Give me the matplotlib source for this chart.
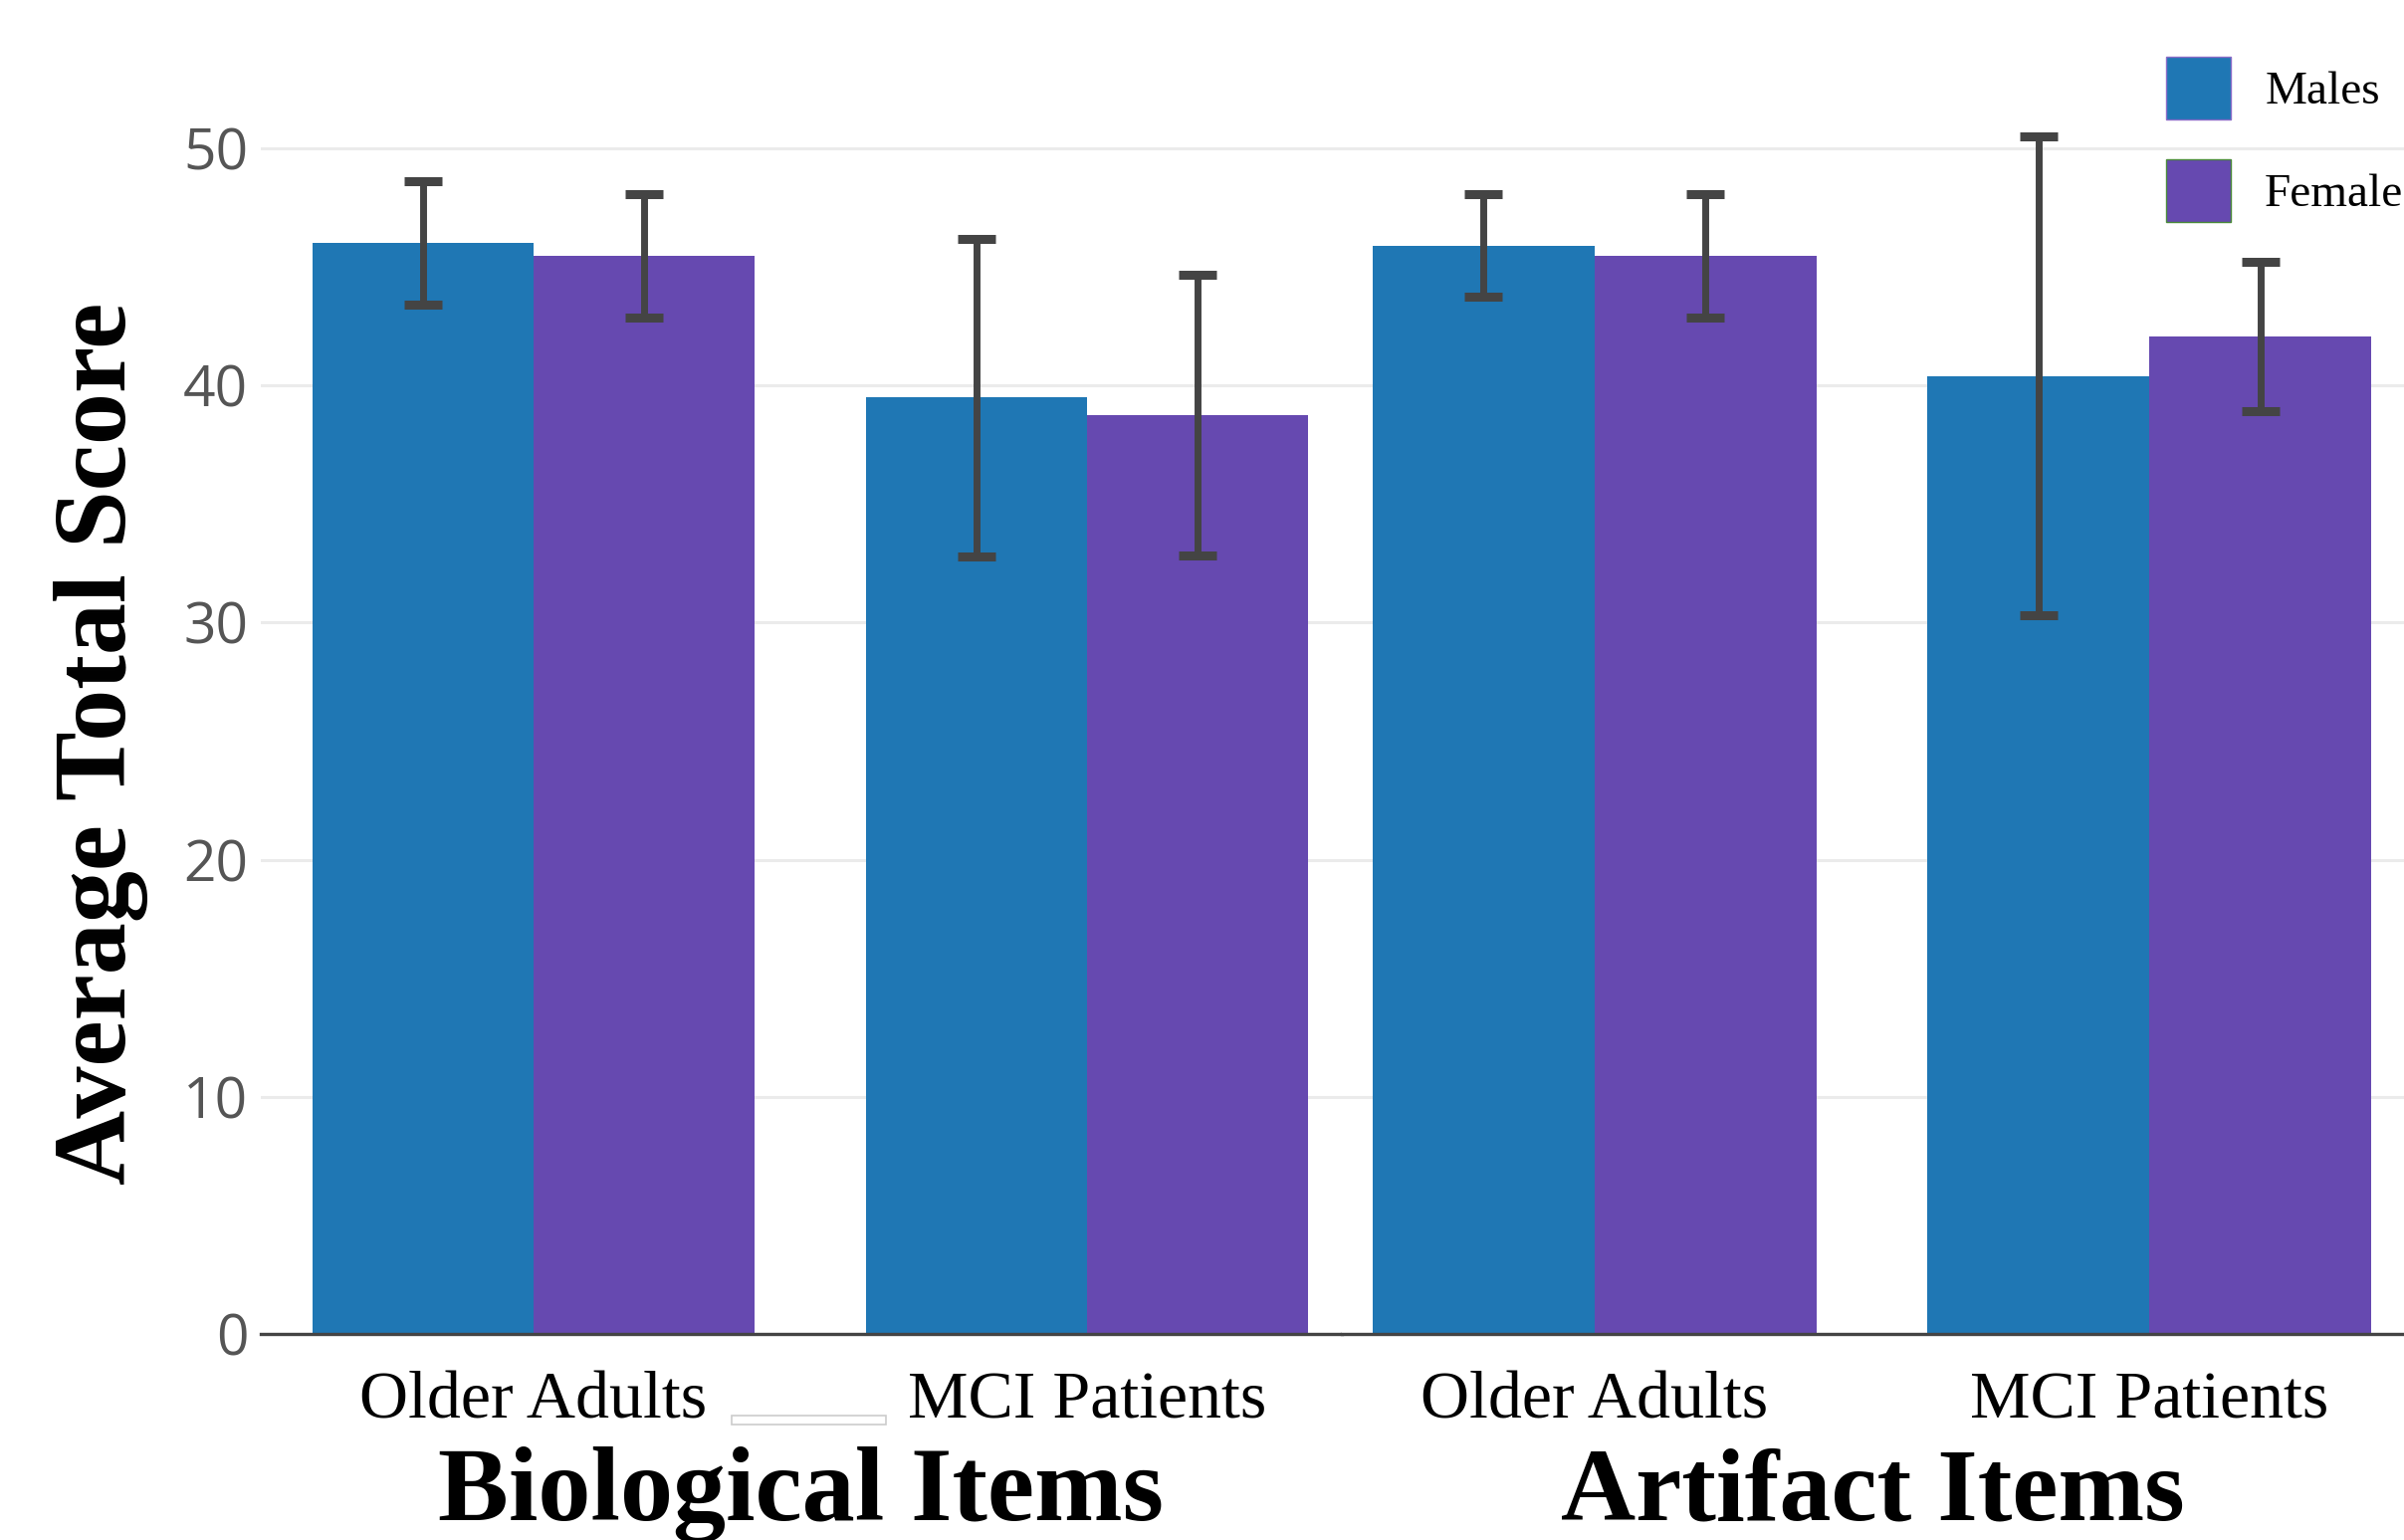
import matplotlib
matplotlib.use('Agg')
import matplotlib.pyplot as plt
from matplotlib.patches import Patch, Rectangle
import numpy as np

# ---- data ----
groups = ['Older Adults', 'MCI Patients']
item_types = ['Biological Items', 'Artifact Items']
series = ['Males', 'Females']
bio_males = [46.0, 39.5]
bio_males_err = [2.6, 6.7]
bio_females = [45.45, 38.75]
bio_females_err = [2.6, 5.9]
art_males = [45.9, 40.4]
art_males_err = [2.15, 10.1]
art_females = [45.45, 42.05]
art_females_err = [2.6, 3.15]
yticks = [0, 10, 20, 30, 40, 50]

# ---- style ----
C_MALE = '#1f77b4'
C_FEMALE = '#6649b0'
C_ERR = '#444444'
SERIF = ['Liberation Serif', 'DejaVu Serif']
SANS = ['Open Sans', 'DejaVu Sans']

W, H = 2415, 1547
fig = plt.figure(figsize=(W / 100, H / 100), dpi=100)

ax_left_px, ax_split_px, ax_bottom_px = 261.8, 1347.7, 1340.0
y_per_unit = (1340 - 149) / 50.0
ytop = ax_bottom_px / y_per_unit

b = 1 - ax_bottom_px / H
ax1 = fig.add_axes([ax_left_px / W, b, (ax_split_px - ax_left_px) / W, 1 - b])
ax2 = fig.add_axes([ax_split_px / W, b, 1 - ax_split_px / W, 1 - b])

data = [
    (ax1, item_types[0], bio_males, bio_males_err, bio_females, bio_females_err, (-0.493, 1.46), 76.5),
    (ax2, item_types[1], art_males, art_males_err, art_females, art_females_err, (-0.456, 1.459), 75),
]

bw = 0.40
for ax, title, m, me, f, fe, xl, tsize in data:
    x = np.arange(len(groups))
    ax.set_axisbelow(True)
    ax.bar(x - bw / 2, m, width=bw, color=C_MALE, zorder=2)
    ax.bar(x + bw / 2, f, width=bw, color=C_FEMALE, zorder=2)
    ax.errorbar(x - bw / 2, m, yerr=me, fmt='none', ecolor=C_ERR, elinewidth=5,
                capsize=13.5, capthick=6.5, zorder=3)
    ax.errorbar(x + bw / 2, f, yerr=fe, fmt='none', ecolor=C_ERR, elinewidth=5,
                capsize=13.5, capthick=6.5, zorder=3)
    ax.set_xlim(*xl)
    ax.set_ylim(0, ytop)
    ax.set_yticks(yticks)
    ax.yaxis.grid(True, color='#ebebeb', linewidth=2.2, zorder=0)
    ax.set_xticks(x)
    ax.set_xticklabels(groups, fontsize=49, family=SERIF)
    ax.tick_params(axis='x', length=0, pad=27)
    ax.tick_params(axis='y', length=0, pad=9, labelsize=41, labelcolor='#555555')
    for lab in ax.get_yticklabels():
        lab.set_family(SANS)
    for s in ['top', 'right', 'left']:
        ax.spines[s].set_visible(False)
    ax.spines['bottom'].set_color('#444444')
    ax.spines['bottom'].set_linewidth(2.4)
    ax.set_xlabel(title, fontsize=tsize, fontweight='bold', family=SERIF)
    ax.xaxis.set_label_coords(0.5, -(1527 - ax_bottom_px) / ax_bottom_px)
    ax.xaxis.label.set_verticalalignment('baseline')

ax2.tick_params(axis='y', labelleft=False)

ax1.set_ylabel('Average Total Score', fontsize=75, fontweight='bold', family=SERIF)
ax1.yaxis.set_label_coords(-(ax_left_px - 102) / (ax_split_px - ax_left_px),
                           (ax_bottom_px - 747) / ax_bottom_px)
ax1.yaxis.label.set_verticalalignment('center')

# small stray box between the first two category labels
fig.add_artist(Rectangle((735 / W, 1 - 1431 / H), 155 / W, 9 / H, transform=fig.transFigure,
                         facecolor='white', edgecolor='#cccccc', linewidth=1.2))

handles = [Patch(facecolor=C_MALE, edgecolor='#8a6cc8', linewidth=1.0),
           Patch(facecolor=C_FEMALE, edgecolor='#4a8a3a', linewidth=1.0)]
fig.legend(handles, series, loc='upper left', bbox_to_anchor=(2176 / W, 1 - 57 / H),
           frameon=False, borderpad=0, borderaxespad=0, handlelength=1.38,
           handleheight=1.68, handletextpad=0.72, labelspacing=0.85,
           prop={'family': SERIF, 'size': 34})

fig.savefig('out.png', dpi=100)
